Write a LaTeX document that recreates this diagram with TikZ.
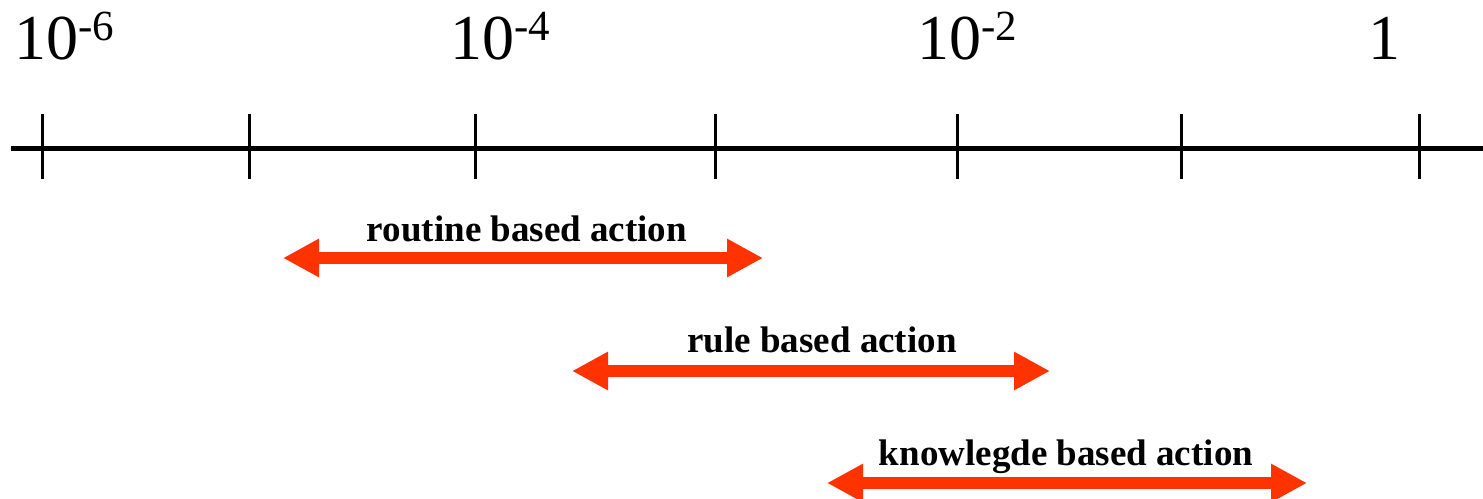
\documentclass[tikz,border=0pt]{standalone}
\usepackage{fontspec}
\setmainfont{Liberation Serif}
\usetikzlibrary{arrows.meta}
\definecolor{arrred}{RGB}{255,51,0}
\newcommand{\powlabel}[1]{\fontsize{64}{64}\selectfont 10\raisebox{19pt}{\fontsize{43}{43}\selectfont -#1}}
\tikzset{
  axisline/.style={line width=5pt, black},
  tickline/.style={line width=3pt, black},
  numlabel/.style={anchor=base west, inner sep=0pt, font=\fontsize{64}{64}\selectfont},
  actlabel/.style={anchor=base, inner sep=0pt, font=\fontsize{37}{37}\selectfont\bfseries},
  rangearrow/.style={line width=12pt, arrred, {Triangle[length=36pt,width=36pt]}-{Triangle[length=36pt,width=36pt]}}
}
\begin{document}
\begin{tikzpicture}[x=1pt,y=-1pt]
\useasboundingbox (0,0) rectangle (1483,498);
% axis
\coordinate (axL) at (11,148);
\coordinate (axR) at (1483,148);
\draw[axisline] (axL) -- (axR);
\foreach \i/\x in {1/42,2/249,3/475,4/715,5/957,6/1181,7/1419}{
  \coordinate (t\i a) at (\x,114);
  \coordinate (t\i b) at (\x,179);
  \draw[tickline] (t\i a) -- (t\i b);
}
% labels
\node[numlabel] (l6) at (14,59) {\powlabel{6}};
\node[numlabel] (l4) at (450,59) {\powlabel{4}};
\node[numlabel] (l2) at (917,59) {\powlabel{2}};
\node[numlabel] (l0) at (1368,59) {1};
% ranges
\node[actlabel] (routine) at (527,241) {routine based action};
\coordinate (r1a) at (283,258);
\coordinate (r1b) at (763,258);
\draw[rangearrow] (r1a) -- (r1b);
\node[actlabel] (rule) at (822,352) {rule based action};
\coordinate (r2a) at (572,371);
\coordinate (r2b) at (1050,371);
\draw[rangearrow] (r2a) -- (r2b);
\node[actlabel] (know) at (1066,465) {knowlegde based action};
\coordinate (r3a) at (827,483);
\coordinate (r3b) at (1307,483);
\draw[rangearrow] (r3a) -- (r3b);
\end{tikzpicture}
\end{document}
